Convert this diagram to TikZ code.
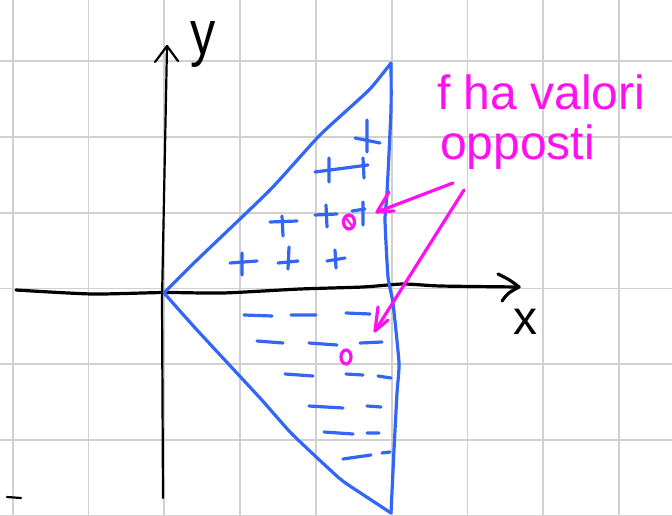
\documentclass[tikz,border=0pt]{standalone}
\usepackage{fontspec}
\setmainfont{Liberation Sans}
\definecolor{gridgray}{HTML}{D0D0D0}
\definecolor{penblue}{HTML}{3366F5}
\definecolor{penpink}{HTML}{FF10F0}
\begin{document}
\begin{tikzpicture}[x=1pt,y=-1pt, line cap=round, line join=round,
  gridline/.style={draw=gridgray, line width=1.8pt},
  ink/.style={draw=black, line width=2.2pt},
  blueink/.style={draw=penblue, line width=3.2pt},
  dashmark/.style={draw=penblue, line width=3.2pt},
  plusmark/.style={draw=penblue, line width=3.2pt},
  pinkink/.style={draw=penpink, line width=3.2pt},
  axlbl/.style={inner sep=0pt, font=\fontsize{48}{48}\selectfont},
  notelbl/.style={inner sep=0pt, anchor=base west, text=penpink, font=\fontsize{48}{48}\selectfont}]
\fill[white] (0,0) rectangle (672,516);
\useasboundingbox (0,0) rectangle (672,516);
% grid
\foreach \i in {0,...,8} \draw[gridline] ({12.7+75.8*\i},0) -- ({12.7+75.8*\i},516);
\foreach \j in {0,...,6} \draw[gridline] (0,{61+75.8*\j}) -- (672,{61+75.8*\j});
% axes
\coordinate (O) at (164,293);
\coordinate (ytop) at (167,46);
\coordinate (ybot) at (163,498);
\coordinate (xleft) at (16,290);
\coordinate (xtip) at (519,287);
\draw[ink] (ybot) -- (162,300) -- (ytop);
\draw[ink] (155,62) -- (ytop) -- (178,61);
\draw[ink, line width=3.2pt] plot[smooth, tension=0.4] coordinates {(xleft) (92,294) (164,292.5) (223,293) (300,289) (363,287) (403,284) (440,286) (xtip)};
\draw[ink, line width=3.2pt] (498,274) .. controls (510,280) .. (xtip) .. controls (508,293) .. (502,301);
\node[axlbl] (ylab) at (203,44) {\scalebox{1.05}[1.3]{y}};
\node[axlbl] (xlab) at (525,322) {x};
\draw[ink] (7,497) -- (21,498);
% triangle
\coordinate (T) at (391,63);
\coordinate (B) at (391,513);
\draw[blueink] plot[smooth, tension=0.3] coordinates {(O) (197,260) (270,190) (320,135) (369,90) (T)};
\draw[blueink] plot[smooth, tension=0.3] coordinates {(T) (391,110) (387,193) (385,220) (388,277) (393,303) (399,363) (397,393) (394,450) (B)};
\draw[blueink] plot[smooth, tension=0.3] coordinates {(O) (197,330) (260,398) (292,434) (339,478) (356,490) (B)};
% plus marks
\draw[plusmark] (367,120) -- (367,152) (355,138) -- (380,143);
\draw[plusmark] (315,172) -- (368,165) (329,158) -- (329,182) (363,158) -- (364,178);
\draw[plusmark] (315,215) -- (337,214) (326,205) -- (327,227);
\draw[plusmark] (352,211) -- (365,209) (363,202) -- (363,225);
\draw[plusmark] (270,222) -- (297,221) (282,216) -- (283,236);
\draw[plusmark] (230,263) -- (257,261) (242,253) -- (242,275);
\draw[plusmark] (278,263) -- (298,261) (289,247) -- (288,269);
\draw[plusmark] (327,261) -- (345,258) (335,250) -- (336,268);
% dashes
\draw[dashmark] (244,315) -- (272,316) (291,315) -- (316,315) (346,313) -- (370,314);
\draw[dashmark] (257,341) -- (283,343) (309,343) -- (337,345) (360,343) -- (382,342);
\draw[dashmark] (285,374) -- (313,376) (346,374) -- (363,375) (378,376) -- (391,378);
\draw[dashmark] (309,406) -- (343,408) (367,406) -- (381,407);
\draw[dashmark] (324,432) -- (353,434) (367,433) -- (379,433);
\draw[dashmark] (343,459) -- (371,455) (382,453) -- (390,452);
% pink dots
\draw[pinkink] (349,222) ellipse [x radius=5.5, y radius=7];
\draw[pinkink, line width=2pt] (346,218) -- (352,226);
\draw[pinkink] (346,357) ellipse [x radius=5, y radius=7];
% note
\node[notelbl] (note1) at (437,110) {f ha valori};
\node[notelbl] (note2) at (440,160) {opposti};
% pink arrows
\coordinate (a1s) at (453,183);
\coordinate (a1e) at (377,212);
\coordinate (a2s) at (464,190);
\coordinate (a2e) at (375,331);
\draw[pinkink] (a1s) -- (a1e);
\draw[pinkink] (389,192) -- (a1e) -- (394,211);
\draw[pinkink] (a2s) -- (a2e);
\draw[pinkink] (378,307) -- (a2e) -- (388,320);
\end{tikzpicture}
\end{document}
